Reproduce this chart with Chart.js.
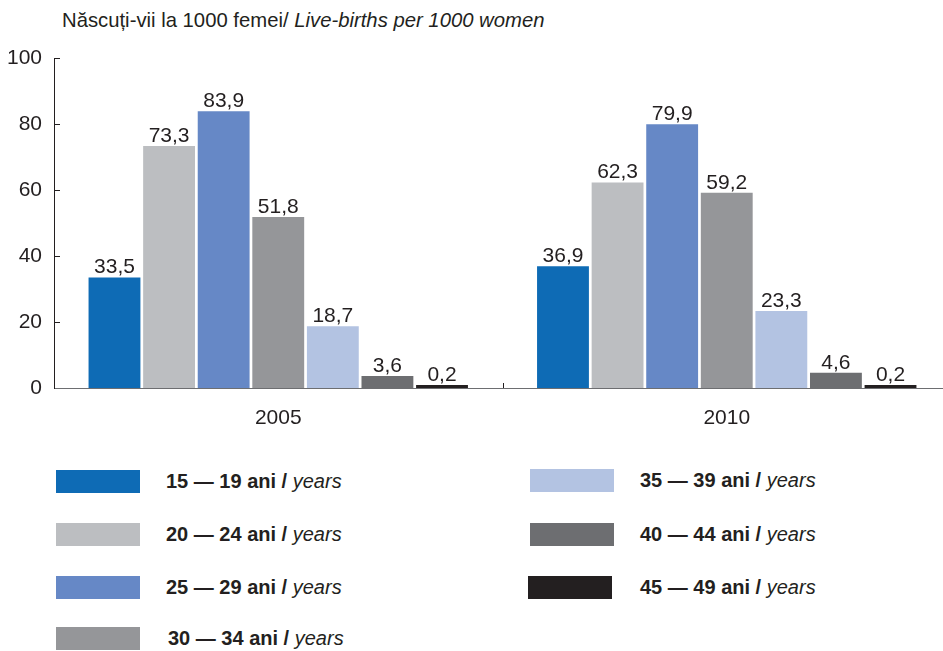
<!DOCTYPE html>
<html>
<head>
<meta charset="utf-8">
<script src="https://cdn.jsdelivr.net/npm/chart.js@4.4.1/dist/chart.umd.min.js"></script>
<style>
    html, body { margin: 0; padding: 0; background: #fff; overflow: hidden; }
    body { width: 943px; height: 651px; position: relative; font-family: "Liberation Sans", Arial, sans-serif; color: #231f20; }
    #title { position: absolute; left: 62px; top: 9px; font-size: 20.3px; white-space: nowrap; }
    #wrap { position: absolute; left: 0; top: 0; width: 951px; height: 440px; }
    .sw { position: absolute; width: 84px; height: 23px; }
    .lbl { position: absolute; height: 23px; line-height: 23px; font-size: 20px; font-weight: bold; white-space: nowrap; }
    .lbl i { font-weight: normal; }
</style>
</head>
<body>
<div id="title">Născuți-vii la 1000 femei/ <i>Live-births per 1000 women</i></div>
<div id="wrap"><canvas id="births-chart"></canvas></div>
<div id="legend"></div>

<script>
// categories (years) and age groups
var years = ['2005', '2010'];
var ageGroups = ['15 — 19', '20 — 24', '25 — 29', '30 — 34', '35 — 39', '40 — 44', '45 — 49'];

// births per 1000 women, one array per age group: [2005, 2010]
var age15_19 = [33.5, 36.9];
var age20_24 = [73.3, 62.3];
var age25_29 = [83.9, 79.9];
var age30_34 = [51.8, 59.2];
var age35_39 = [18.7, 23.3];
var age40_44 = [3.6, 4.6];
var age45_49 = [0.2, 0.2];

var yTicks = [0, 20, 40, 60, 80, 100];

var seriesValues = [age15_19, age20_24, age25_29, age30_34, age35_39, age40_44, age45_49];
var colors = ['#0e6bb5', '#bcbec1', '#6688c6', '#959699', '#b3c3e2', '#6d6e71', '#231f20'];

// legend layout: swatch x, swatch y, text x (two columns)
var legendPos = [
    [56, 470, 166], [56, 523, 166], [56, 576, 166], [56, 627, 168],
    [530, 469, 640], [530, 523, 640], [528, 576, 640]
];

document.addEventListener('DOMContentLoaded', function() {
    buildLegend();
    loadChart();
});

function buildLegend() {
    var box = document.getElementById('legend');
    ageGroups.forEach(function(g, i) {
        var p = legendPos[i];
        var sw = document.createElement('div');
        sw.className = 'sw';
        sw.style.left = p[0] + 'px';
        sw.style.top = p[1] + 'px';
        sw.style.background = colors[i];
        var lbl = document.createElement('div');
        lbl.className = 'lbl';
        lbl.style.left = p[2] + 'px';
        lbl.style.top = p[1] + 'px';
        lbl.innerHTML = g + ' ani / <i>years</i>';
        box.appendChild(sw);
        box.appendChild(lbl);
    });
}

// values above the bars, with decimal comma
var valueLabels = {
    id: 'valueLabels',
    afterDatasetsDraw: function(chart) {
        var ctx = chart.ctx;
        ctx.save();
        ctx.font = '21px "Liberation Sans", Arial, sans-serif';
        ctx.fillStyle = '#231f20';
        ctx.textAlign = 'center';
        ctx.textBaseline = 'alphabetic';
        chart.data.datasets.forEach(function(ds, i) {
            chart.getDatasetMeta(i).data.forEach(function(bar, j) {
                var txt = ds.data[j].toFixed(1).replace('.', ',');
                ctx.fillText(txt, bar.x, bar.y - 4);
            });
        });
        ctx.restore();
    }
};

// small inner tick marks on both axes
var innerTicks = {
    id: 'innerTicks',
    afterDraw: function(chart) {
        var ctx = chart.ctx;
        var x = chart.scales.x, y = chart.scales.y;
        ctx.save();
        ctx.strokeStyle = '#231f20';
        ctx.lineWidth = 1;
        ctx.beginPath();
        yTicks.forEach(function(v) {
            if (v === 0) return;
            var py = Math.round(y.getPixelForValue(v)) + 0.5;
            ctx.moveTo(x.left, py);
            ctx.lineTo(x.left + 6, py);
        });
        var mid = Math.round((x.getPixelForValue(0) + x.getPixelForValue(1)) / 2) + 0.5;
        ctx.moveTo(mid, y.bottom);
        ctx.lineTo(mid, y.bottom - 5);
        ctx.stroke();
        ctx.restore();
    }
};

function loadChart() {
    var ctx = document.getElementById('births-chart');
    var datasets = ageGroups.map(function(g, i) {
        return {
            label: g,
            data: seriesValues[i],
            backgroundColor: colors[i],
            borderWidth: 0,
            minBarLength: 3,
            categoryPercentage: 0.852,
            barPercentage: 0.95
        };
    });

    new Chart(ctx, {
        type: 'bar',
        data: { labels: years, datasets: datasets },
        plugins: [valueLabels, innerTicks],
        options: {
            responsive: true,
            maintainAspectRatio: false,
            animation: false,
            layout: { padding: { top: 58, left: 0, right: 0, bottom: 0 } },
            plugins: {
                legend: { display: false },
                tooltip: { enabled: false }
            },
            scales: {
                x: {
                    grid: { display: false, drawTicks: false },
                    border: { display: true, color: '#6d6e71', width: 1 },
                    ticks: {
                        color: '#231f20',
                        padding: 18,
                        font: { family: '"Liberation Sans", Arial, sans-serif', size: 21 }
                    },
                    afterFit: function(scale) { scale.height = 52; }
                },
                y: {
                    min: 0,
                    max: 100,
                    grid: { display: false, drawTicks: false },
                    border: { display: true, color: '#231f20', width: 1 },
                    afterBuildTicks: function(scale) {
                        scale.ticks = yTicks.map(function(v) { return { value: v }; });
                    },
                    ticks: {
                        color: '#231f20',
                        padding: 12,
                        font: { family: '"Liberation Sans", Arial, sans-serif', size: 21 }
                    },
                    afterFit: function(scale) { scale.width = 54; }
                }
            }
        }
    });
}
</script>
</body>
</html>
